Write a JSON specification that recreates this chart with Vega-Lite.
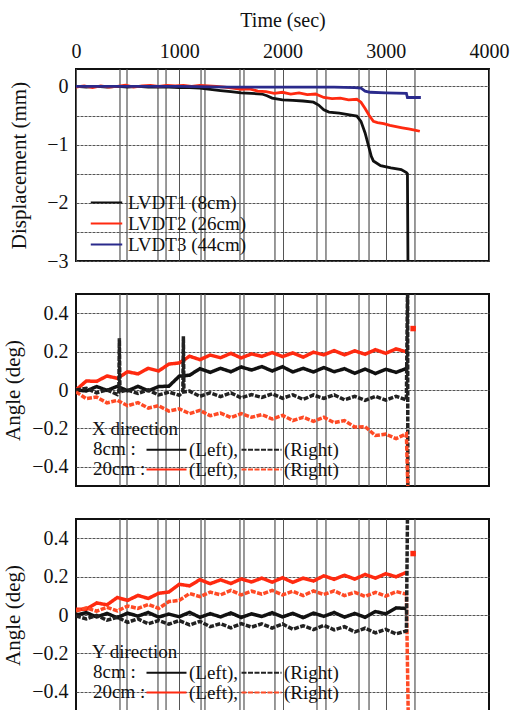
{
  "$schema": "https://vega.github.io/schema/vega-lite/v6.json",
  "padding": {"left": 1, "top": 9, "right": 15, "bottom": 0},
  "background": "white",
  "spacing": 33,
  "bounds": "flush",
  "config": {
    "font": "Liberation Serif",
    "view": {"stroke": "#111", "strokeWidth": 2},
    "axis": {"labelFont": "Liberation Serif", "titleFont": "Liberation Serif", "labelFontSize": 20, "titleFontSize": 21, "titleFontWeight": "normal", "labelColor": "#111", "titleColor": "#111", "gridColor": "#555", "gridWidth": 1, "gridOpacity": 1, "domain": false, "ticks": false, "labelOverlap": false},
    "legend": {"labelFont": "Liberation Serif", "titleFont": "Liberation Serif", "labelFontSize": 19, "titleFontSize": 19, "titleFontWeight": "normal", "labelColor": "#111", "titleColor": "#111", "padding": 0}
  },
  "datasets": {
    "events": [{"t":426},{"t":494},{"t":794},{"t":872},{"t":1211},{"t":1249},{"t":1588},{"t":1627},{"t":1927},{"t":2334},{"t":2421},{"t":2741},{"t":2838},{"t":3283}],
    "hgrid": [{"g":-0.3},{"g":-0.1},{"g":0.1},{"g":0.3}],
    "mk": [{"t":3265,"v":0.32}],
    "disp": [
      {"t":0,"v":0,"s":"LVDT1 (8cm)"},{"t":100,"v":-0.01,"s":"LVDT1 (8cm)"},{"t":200,"v":0,"s":"LVDT1 (8cm)"},{"t":300,"v":-0.01,"s":"LVDT1 (8cm)"},{"t":400,"v":0,"s":"LVDT1 (8cm)"},{"t":500,"v":-0.01,"s":"LVDT1 (8cm)"},{"t":600,"v":0,"s":"LVDT1 (8cm)"},{"t":700,"v":-0.01,"s":"LVDT1 (8cm)"},{"t":800,"v":-0.01,"s":"LVDT1 (8cm)"},{"t":900,"v":-0.01,"s":"LVDT1 (8cm)"},{"t":1000,"v":-0.02,"s":"LVDT1 (8cm)"},{"t":1100,"v":-0.02,"s":"LVDT1 (8cm)"},{"t":1200,"v":-0.03,"s":"LVDT1 (8cm)"},{"t":1300,"v":-0.05,"s":"LVDT1 (8cm)"},{"t":1400,"v":-0.07,"s":"LVDT1 (8cm)"},{"t":1500,"v":-0.09,"s":"LVDT1 (8cm)"},{"t":1600,"v":-0.11,"s":"LVDT1 (8cm)"},{"t":1700,"v":-0.12,"s":"LVDT1 (8cm)"},{"t":1800,"v":-0.13,"s":"LVDT1 (8cm)"},{"t":1850,"v":-0.16,"s":"LVDT1 (8cm)"},{"t":1900,"v":-0.2,"s":"LVDT1 (8cm)"},{"t":2000,"v":-0.23,"s":"LVDT1 (8cm)"},{"t":2100,"v":-0.24,"s":"LVDT1 (8cm)"},{"t":2200,"v":-0.25,"s":"LVDT1 (8cm)"},{"t":2300,"v":-0.27,"s":"LVDT1 (8cm)"},{"t":2350,"v":-0.32,"s":"LVDT1 (8cm)"},{"t":2400,"v":-0.4,"s":"LVDT1 (8cm)"},{"t":2450,"v":-0.44,"s":"LVDT1 (8cm)"},{"t":2550,"v":-0.46,"s":"LVDT1 (8cm)"},{"t":2650,"v":-0.49,"s":"LVDT1 (8cm)"},{"t":2720,"v":-0.51,"s":"LVDT1 (8cm)"},{"t":2760,"v":-0.6,"s":"LVDT1 (8cm)"},{"t":2800,"v":-0.8,"s":"LVDT1 (8cm)"},{"t":2830,"v":-1.0,"s":"LVDT1 (8cm)"},{"t":2860,"v":-1.2,"s":"LVDT1 (8cm)"},{"t":2880,"v":-1.28,"s":"LVDT1 (8cm)"},{"t":2950,"v":-1.36,"s":"LVDT1 (8cm)"},{"t":3050,"v":-1.4,"s":"LVDT1 (8cm)"},{"t":3150,"v":-1.43,"s":"LVDT1 (8cm)"},{"t":3200,"v":-1.48,"s":"LVDT1 (8cm)"},{"t":3210,"v":-1.5,"s":"LVDT1 (8cm)"},{"t":3215,"v":-3.0,"s":"LVDT1 (8cm)"},
      {"t":0,"v":-0.01,"s":"LVDT2 (26cm)"},{"t":80,"v":0.01,"s":"LVDT2 (26cm)"},{"t":160,"v":-0.02,"s":"LVDT2 (26cm)"},{"t":240,"v":0.01,"s":"LVDT2 (26cm)"},{"t":320,"v":-0.01,"s":"LVDT2 (26cm)"},{"t":400,"v":0,"s":"LVDT2 (26cm)"},{"t":480,"v":0.02,"s":"LVDT2 (26cm)"},{"t":560,"v":-0.01,"s":"LVDT2 (26cm)"},{"t":640,"v":0.01,"s":"LVDT2 (26cm)"},{"t":720,"v":0.02,"s":"LVDT2 (26cm)"},{"t":800,"v":0,"s":"LVDT2 (26cm)"},{"t":880,"v":0.02,"s":"LVDT2 (26cm)"},{"t":960,"v":0.01,"s":"LVDT2 (26cm)"},{"t":1040,"v":0.02,"s":"LVDT2 (26cm)"},{"t":1120,"v":0,"s":"LVDT2 (26cm)"},{"t":1200,"v":0.02,"s":"LVDT2 (26cm)"},{"t":1280,"v":0.01,"s":"LVDT2 (26cm)"},{"t":1360,"v":0,"s":"LVDT2 (26cm)"},{"t":1440,"v":-0.01,"s":"LVDT2 (26cm)"},{"t":1520,"v":-0.03,"s":"LVDT2 (26cm)"},{"t":1600,"v":-0.05,"s":"LVDT2 (26cm)"},{"t":1680,"v":-0.04,"s":"LVDT2 (26cm)"},{"t":1760,"v":-0.08,"s":"LVDT2 (26cm)"},{"t":1840,"v":-0.09,"s":"LVDT2 (26cm)"},{"t":1920,"v":-0.12,"s":"LVDT2 (26cm)"},{"t":2000,"v":-0.1,"s":"LVDT2 (26cm)"},{"t":2080,"v":-0.13,"s":"LVDT2 (26cm)"},{"t":2160,"v":-0.11,"s":"LVDT2 (26cm)"},{"t":2240,"v":-0.14,"s":"LVDT2 (26cm)"},{"t":2320,"v":-0.13,"s":"LVDT2 (26cm)"},{"t":2400,"v":-0.19,"s":"LVDT2 (26cm)"},{"t":2480,"v":-0.21,"s":"LVDT2 (26cm)"},{"t":2560,"v":-0.2,"s":"LVDT2 (26cm)"},{"t":2640,"v":-0.23,"s":"LVDT2 (26cm)"},{"t":2720,"v":-0.22,"s":"LVDT2 (26cm)"},{"t":2760,"v":-0.27,"s":"LVDT2 (26cm)"},{"t":2800,"v":-0.38,"s":"LVDT2 (26cm)"},{"t":2840,"v":-0.5,"s":"LVDT2 (26cm)"},{"t":2880,"v":-0.6,"s":"LVDT2 (26cm)"},{"t":2920,"v":-0.62,"s":"LVDT2 (26cm)"},{"t":2980,"v":-0.64,"s":"LVDT2 (26cm)"},{"t":3040,"v":-0.67,"s":"LVDT2 (26cm)"},{"t":3100,"v":-0.69,"s":"LVDT2 (26cm)"},{"t":3160,"v":-0.71,"s":"LVDT2 (26cm)"},{"t":3220,"v":-0.73,"s":"LVDT2 (26cm)"},{"t":3280,"v":-0.75,"s":"LVDT2 (26cm)"},{"t":3330,"v":-0.77,"s":"LVDT2 (26cm)"},
      {"t":0,"v":0,"s":"LVDT3 (44cm)"},{"t":500,"v":0,"s":"LVDT3 (44cm)"},{"t":1000,"v":0,"s":"LVDT3 (44cm)"},{"t":1500,"v":-0.01,"s":"LVDT3 (44cm)"},{"t":2000,"v":-0.01,"s":"LVDT3 (44cm)"},{"t":2500,"v":-0.01,"s":"LVDT3 (44cm)"},{"t":2700,"v":-0.02,"s":"LVDT3 (44cm)"},{"t":2760,"v":-0.03,"s":"LVDT3 (44cm)"},{"t":2800,"v":-0.08,"s":"LVDT3 (44cm)"},{"t":2850,"v":-0.1,"s":"LVDT3 (44cm)"},{"t":3000,"v":-0.11,"s":"LVDT3 (44cm)"},{"t":3200,"v":-0.12,"s":"LVDT3 (44cm)"},{"t":3210,"v":-0.19,"s":"LVDT3 (44cm)"},{"t":3280,"v":-0.19,"s":"LVDT3 (44cm)"},{"t":3340,"v":-0.19,"s":"LVDT3 (44cm)"}
    ],
    "ax": [
      {"t":0,"v":0.0,"s":"20cm Left","p":"20cm"},{"t":100,"v":0.047,"s":"20cm Left","p":"20cm"},{"t":200,"v":0.045,"s":"20cm Left","p":"20cm"},{"t":300,"v":0.073,"s":"20cm Left","p":"20cm"},{"t":400,"v":0.061,"s":"20cm Left","p":"20cm"},{"t":500,"v":0.095,"s":"20cm Left","p":"20cm"},{"t":600,"v":0.084,"s":"20cm Left","p":"20cm"},{"t":700,"v":0.113,"s":"20cm Left","p":"20cm"},{"t":800,"v":0.099,"s":"20cm Left","p":"20cm"},{"t":900,"v":0.135,"s":"20cm Left","p":"20cm"},{"t":1000,"v":0.141,"s":"20cm Left","p":"20cm"},{"t":1100,"v":0.176,"s":"20cm Left","p":"20cm"},{"t":1200,"v":0.158,"s":"20cm Left","p":"20cm"},{"t":1300,"v":0.182,"s":"20cm Left","p":"20cm"},{"t":1400,"v":0.168,"s":"20cm Left","p":"20cm"},{"t":1500,"v":0.191,"s":"20cm Left","p":"20cm"},{"t":1600,"v":0.167,"s":"20cm Left","p":"20cm"},{"t":1700,"v":0.188,"s":"20cm Left","p":"20cm"},{"t":1800,"v":0.175,"s":"20cm Left","p":"20cm"},{"t":1900,"v":0.195,"s":"20cm Left","p":"20cm"},{"t":2000,"v":0.174,"s":"20cm Left","p":"20cm"},{"t":2100,"v":0.193,"s":"20cm Left","p":"20cm"},{"t":2200,"v":0.171,"s":"20cm Left","p":"20cm"},{"t":2300,"v":0.197,"s":"20cm Left","p":"20cm"},{"t":2400,"v":0.183,"s":"20cm Left","p":"20cm"},{"t":2500,"v":0.205,"s":"20cm Left","p":"20cm"},{"t":2600,"v":0.183,"s":"20cm Left","p":"20cm"},{"t":2700,"v":0.204,"s":"20cm Left","p":"20cm"},{"t":2800,"v":0.186,"s":"20cm Left","p":"20cm"},{"t":2900,"v":0.21,"s":"20cm Left","p":"20cm"},{"t":3000,"v":0.191,"s":"20cm Left","p":"20cm"},{"t":3100,"v":0.214,"s":"20cm Left","p":"20cm"},{"t":3200,"v":0.199,"s":"20cm Left","p":"20cm"},
      {"t":0,"v":0.0,"s":"8cm Left","p":"8cm"},{"t":100,"v":-0.005,"s":"8cm Left","p":"8cm"},{"t":200,"v":0.018,"s":"8cm Left","p":"8cm"},{"t":300,"v":-0.002,"s":"8cm Left","p":"8cm"},{"t":400,"v":0.019,"s":"8cm Left","p":"8cm"},{"t":500,"v":-0.004,"s":"8cm Left","p":"8cm"},{"t":600,"v":0.019,"s":"8cm Left","p":"8cm"},{"t":700,"v":-0.004,"s":"8cm Left","p":"8cm"},{"t":800,"v":0.018,"s":"8cm Left","p":"8cm"},{"t":900,"v":0.02,"s":"8cm Left","p":"8cm"},{"t":1000,"v":0.072,"s":"8cm Left","p":"8cm"},{"t":1100,"v":0.077,"s":"8cm Left","p":"8cm"},{"t":1200,"v":0.111,"s":"8cm Left","p":"8cm"},{"t":1300,"v":0.092,"s":"8cm Left","p":"8cm"},{"t":1400,"v":0.113,"s":"8cm Left","p":"8cm"},{"t":1500,"v":0.095,"s":"8cm Left","p":"8cm"},{"t":1600,"v":0.12,"s":"8cm Left","p":"8cm"},{"t":1700,"v":0.104,"s":"8cm Left","p":"8cm"},{"t":1800,"v":0.122,"s":"8cm Left","p":"8cm"},{"t":1900,"v":0.099,"s":"8cm Left","p":"8cm"},{"t":2000,"v":0.121,"s":"8cm Left","p":"8cm"},{"t":2100,"v":0.094,"s":"8cm Left","p":"8cm"},{"t":2200,"v":0.113,"s":"8cm Left","p":"8cm"},{"t":2300,"v":0.094,"s":"8cm Left","p":"8cm"},{"t":2400,"v":0.117,"s":"8cm Left","p":"8cm"},{"t":2500,"v":0.095,"s":"8cm Left","p":"8cm"},{"t":2600,"v":0.111,"s":"8cm Left","p":"8cm"},{"t":2700,"v":0.087,"s":"8cm Left","p":"8cm"},{"t":2800,"v":0.109,"s":"8cm Left","p":"8cm"},{"t":2900,"v":0.086,"s":"8cm Left","p":"8cm"},{"t":3000,"v":0.108,"s":"8cm Left","p":"8cm"},{"t":3100,"v":0.092,"s":"8cm Left","p":"8cm"},{"t":3200,"v":0.112,"s":"8cm Left","p":"8cm"},
      {"t":0,"v":0,"s":"8cm Right","p":"8cm"},{"t":100,"v":0.009,"s":"8cm Right","p":"8cm"},{"t":200,"v":-0.015,"s":"8cm Right","p":"8cm"},{"t":300,"v":0.001,"s":"8cm Right","p":"8cm"},{"t":400,"v":-0.024,"s":"8cm Right","p":"8cm"},{"t":415,"v":-0.01,"s":"8cm Right","p":"8cm"},{"t":420,"v":0.27,"s":"8cm Right","p":"8cm"},{"t":425,"v":-0.01,"s":"8cm Right","p":"8cm"},{"t":500,"v":0.0,"s":"8cm Right","p":"8cm"},{"t":600,"v":-0.018,"s":"8cm Right","p":"8cm"},{"t":700,"v":0.0,"s":"8cm Right","p":"8cm"},{"t":800,"v":-0.026,"s":"8cm Right","p":"8cm"},{"t":900,"v":-0.011,"s":"8cm Right","p":"8cm"},{"t":1000,"v":-0.027,"s":"8cm Right","p":"8cm"},{"t":1035,"v":-0.01,"s":"8cm Right","p":"8cm"},{"t":1040,"v":0.28,"s":"8cm Right","p":"8cm"},{"t":1045,"v":-0.01,"s":"8cm Right","p":"8cm"},{"t":1100,"v":-0.006,"s":"8cm Right","p":"8cm"},{"t":1200,"v":-0.033,"s":"8cm Right","p":"8cm"},{"t":1300,"v":-0.015,"s":"8cm Right","p":"8cm"},{"t":1400,"v":-0.034,"s":"8cm Right","p":"8cm"},{"t":1500,"v":-0.015,"s":"8cm Right","p":"8cm"},{"t":1600,"v":-0.041,"s":"8cm Right","p":"8cm"},{"t":1700,"v":-0.024,"s":"8cm Right","p":"8cm"},{"t":1800,"v":-0.039,"s":"8cm Right","p":"8cm"},{"t":1900,"v":-0.02,"s":"8cm Right","p":"8cm"},{"t":2000,"v":-0.043,"s":"8cm Right","p":"8cm"},{"t":2100,"v":-0.025,"s":"8cm Right","p":"8cm"},{"t":2200,"v":-0.049,"s":"8cm Right","p":"8cm"},{"t":2300,"v":-0.026,"s":"8cm Right","p":"8cm"},{"t":2400,"v":-0.044,"s":"8cm Right","p":"8cm"},{"t":2500,"v":-0.025,"s":"8cm Right","p":"8cm"},{"t":2600,"v":-0.051,"s":"8cm Right","p":"8cm"},{"t":2700,"v":-0.033,"s":"8cm Right","p":"8cm"},{"t":2800,"v":-0.054,"s":"8cm Right","p":"8cm"},{"t":2900,"v":-0.033,"s":"8cm Right","p":"8cm"},{"t":3000,"v":-0.053,"s":"8cm Right","p":"8cm"},{"t":3100,"v":-0.033,"s":"8cm Right","p":"8cm"},{"t":3200,"v":-0.052,"s":"8cm Right","p":"8cm"},{"t":3212,"v":0.6,"s":"8cm Right","p":"8cm"},{"t":3214,"v":-0.6,"s":"8cm Right","p":"8cm"},
      {"t":0,"v":-0.01,"s":"20cm Right","p":"20cm"},{"t":100,"v":-0.045,"s":"20cm Right","p":"20cm"},{"t":200,"v":-0.037,"s":"20cm Right","p":"20cm"},{"t":300,"v":-0.067,"s":"20cm Right","p":"20cm"},{"t":400,"v":-0.054,"s":"20cm Right","p":"20cm"},{"t":500,"v":-0.082,"s":"20cm Right","p":"20cm"},{"t":600,"v":-0.066,"s":"20cm Right","p":"20cm"},{"t":700,"v":-0.094,"s":"20cm Right","p":"20cm"},{"t":800,"v":-0.082,"s":"20cm Right","p":"20cm"},{"t":900,"v":-0.11,"s":"20cm Right","p":"20cm"},{"t":1000,"v":-0.098,"s":"20cm Right","p":"20cm"},{"t":1100,"v":-0.123,"s":"20cm Right","p":"20cm"},{"t":1200,"v":-0.106,"s":"20cm Right","p":"20cm"},{"t":1300,"v":-0.134,"s":"20cm Right","p":"20cm"},{"t":1400,"v":-0.12,"s":"20cm Right","p":"20cm"},{"t":1500,"v":-0.143,"s":"20cm Right","p":"20cm"},{"t":1600,"v":-0.123,"s":"20cm Right","p":"20cm"},{"t":1700,"v":-0.142,"s":"20cm Right","p":"20cm"},{"t":1800,"v":-0.128,"s":"20cm Right","p":"20cm"},{"t":1900,"v":-0.151,"s":"20cm Right","p":"20cm"},{"t":2000,"v":-0.132,"s":"20cm Right","p":"20cm"},{"t":2100,"v":-0.159,"s":"20cm Right","p":"20cm"},{"t":2200,"v":-0.142,"s":"20cm Right","p":"20cm"},{"t":2300,"v":-0.163,"s":"20cm Right","p":"20cm"},{"t":2400,"v":-0.142,"s":"20cm Right","p":"20cm"},{"t":2500,"v":-0.17,"s":"20cm Right","p":"20cm"},{"t":2600,"v":-0.159,"s":"20cm Right","p":"20cm"},{"t":2700,"v":-0.193,"s":"20cm Right","p":"20cm"},{"t":2800,"v":-0.191,"s":"20cm Right","p":"20cm"},{"t":2900,"v":-0.237,"s":"20cm Right","p":"20cm"},{"t":3000,"v":-0.23,"s":"20cm Right","p":"20cm"},{"t":3100,"v":-0.253,"s":"20cm Right","p":"20cm"},{"t":3200,"v":-0.228,"s":"20cm Right","p":"20cm"},{"t":3218,"v":-0.6,"s":"20cm Right","p":"20cm"}
    ],
    "ay": [
      {"t":0,"v":0.03,"s":"20cm Left","p":"20cm"},{"t":100,"v":0.03,"s":"20cm Left","p":"20cm"},{"t":200,"v":0.063,"s":"20cm Left","p":"20cm"},{"t":300,"v":0.053,"s":"20cm Left","p":"20cm"},{"t":400,"v":0.091,"s":"20cm Left","p":"20cm"},{"t":500,"v":0.076,"s":"20cm Left","p":"20cm"},{"t":600,"v":0.102,"s":"20cm Left","p":"20cm"},{"t":700,"v":0.086,"s":"20cm Left","p":"20cm"},{"t":800,"v":0.113,"s":"20cm Left","p":"20cm"},{"t":900,"v":0.12,"s":"20cm Left","p":"20cm"},{"t":1000,"v":0.16,"s":"20cm Left","p":"20cm"},{"t":1100,"v":0.152,"s":"20cm Left","p":"20cm"},{"t":1200,"v":0.184,"s":"20cm Left","p":"20cm"},{"t":1300,"v":0.163,"s":"20cm Left","p":"20cm"},{"t":1400,"v":0.183,"s":"20cm Left","p":"20cm"},{"t":1500,"v":0.164,"s":"20cm Left","p":"20cm"},{"t":1600,"v":0.188,"s":"20cm Left","p":"20cm"},{"t":1700,"v":0.172,"s":"20cm Left","p":"20cm"},{"t":1800,"v":0.192,"s":"20cm Left","p":"20cm"},{"t":1900,"v":0.171,"s":"20cm Left","p":"20cm"},{"t":2000,"v":0.194,"s":"20cm Left","p":"20cm"},{"t":2100,"v":0.17,"s":"20cm Left","p":"20cm"},{"t":2200,"v":0.192,"s":"20cm Left","p":"20cm"},{"t":2300,"v":0.177,"s":"20cm Left","p":"20cm"},{"t":2400,"v":0.204,"s":"20cm Left","p":"20cm"},{"t":2500,"v":0.186,"s":"20cm Left","p":"20cm"},{"t":2600,"v":0.207,"s":"20cm Left","p":"20cm"},{"t":2700,"v":0.187,"s":"20cm Left","p":"20cm"},{"t":2800,"v":0.211,"s":"20cm Left","p":"20cm"},{"t":2900,"v":0.192,"s":"20cm Left","p":"20cm"},{"t":3000,"v":0.215,"s":"20cm Left","p":"20cm"},{"t":3100,"v":0.199,"s":"20cm Left","p":"20cm"},{"t":3200,"v":0.222,"s":"20cm Left","p":"20cm"},
      {"t":0,"v":0.02,"s":"20cm Right","p":"20cm"},{"t":100,"v":0.037,"s":"20cm Right","p":"20cm"},{"t":200,"v":0.02,"s":"20cm Right","p":"20cm"},{"t":300,"v":0.04,"s":"20cm Right","p":"20cm"},{"t":400,"v":0.021,"s":"20cm Right","p":"20cm"},{"t":500,"v":0.047,"s":"20cm Right","p":"20cm"},{"t":600,"v":0.034,"s":"20cm Right","p":"20cm"},{"t":700,"v":0.055,"s":"20cm Right","p":"20cm"},{"t":800,"v":0.034,"s":"20cm Right","p":"20cm"},{"t":900,"v":0.07,"s":"20cm Right","p":"20cm"},{"t":1000,"v":0.076,"s":"20cm Right","p":"20cm"},{"t":1100,"v":0.112,"s":"20cm Right","p":"20cm"},{"t":1200,"v":0.096,"s":"20cm Right","p":"20cm"},{"t":1300,"v":0.119,"s":"20cm Right","p":"20cm"},{"t":1400,"v":0.105,"s":"20cm Right","p":"20cm"},{"t":1500,"v":0.128,"s":"20cm Right","p":"20cm"},{"t":1600,"v":0.105,"s":"20cm Right","p":"20cm"},{"t":1700,"v":0.124,"s":"20cm Right","p":"20cm"},{"t":1800,"v":0.109,"s":"20cm Right","p":"20cm"},{"t":1900,"v":0.128,"s":"20cm Right","p":"20cm"},{"t":2000,"v":0.105,"s":"20cm Right","p":"20cm"},{"t":2100,"v":0.124,"s":"20cm Right","p":"20cm"},{"t":2200,"v":0.101,"s":"20cm Right","p":"20cm"},{"t":2300,"v":0.125,"s":"20cm Right","p":"20cm"},{"t":2400,"v":0.107,"s":"20cm Right","p":"20cm"},{"t":2500,"v":0.126,"s":"20cm Right","p":"20cm"},{"t":2600,"v":0.101,"s":"20cm Right","p":"20cm"},{"t":2700,"v":0.118,"s":"20cm Right","p":"20cm"},{"t":2800,"v":0.097,"s":"20cm Right","p":"20cm"},{"t":2900,"v":0.118,"s":"20cm Right","p":"20cm"},{"t":3000,"v":0.098,"s":"20cm Right","p":"20cm"},{"t":3100,"v":0.122,"s":"20cm Right","p":"20cm"},{"t":3200,"v":0.109,"s":"20cm Right","p":"20cm"},{"t":3220,"v":-0.6,"s":"20cm Right","p":"20cm"},
      {"t":0,"v":0,"s":"8cm Left","p":"8cm"},{"t":100,"v":0.012,"s":"8cm Left","p":"8cm"},{"t":200,"v":-0.01,"s":"8cm Left","p":"8cm"},{"t":300,"v":0.008,"s":"8cm Left","p":"8cm"},{"t":400,"v":-0.014,"s":"8cm Left","p":"8cm"},{"t":500,"v":0.01,"s":"8cm Left","p":"8cm"},{"t":600,"v":-0.006,"s":"8cm Left","p":"8cm"},{"t":700,"v":0.013,"s":"8cm Left","p":"8cm"},{"t":800,"v":-0.011,"s":"8cm Left","p":"8cm"},{"t":900,"v":0.005,"s":"8cm Left","p":"8cm"},{"t":1000,"v":-0.009,"s":"8cm Left","p":"8cm"},{"t":1100,"v":0.014,"s":"8cm Left","p":"8cm"},{"t":1200,"v":-0.012,"s":"8cm Left","p":"8cm"},{"t":1300,"v":0.007,"s":"8cm Left","p":"8cm"},{"t":1400,"v":-0.01,"s":"8cm Left","p":"8cm"},{"t":1500,"v":0.011,"s":"8cm Left","p":"8cm"},{"t":1600,"v":-0.013,"s":"8cm Left","p":"8cm"},{"t":1700,"v":0.006,"s":"8cm Left","p":"8cm"},{"t":1800,"v":-0.008,"s":"8cm Left","p":"8cm"},{"t":1900,"v":0.012,"s":"8cm Left","p":"8cm"},{"t":2000,"v":-0.01,"s":"8cm Left","p":"8cm"},{"t":2100,"v":0.009,"s":"8cm Left","p":"8cm"},{"t":2200,"v":-0.014,"s":"8cm Left","p":"8cm"},{"t":2300,"v":0.01,"s":"8cm Left","p":"8cm"},{"t":2400,"v":-0.007,"s":"8cm Left","p":"8cm"},{"t":2500,"v":0.013,"s":"8cm Left","p":"8cm"},{"t":2600,"v":-0.011,"s":"8cm Left","p":"8cm"},{"t":2700,"v":0.008,"s":"8cm Left","p":"8cm"},{"t":2800,"v":-0.012,"s":"8cm Left","p":"8cm"},{"t":2900,"v":0.018,"s":"8cm Left","p":"8cm"},{"t":3000,"v":0.006,"s":"8cm Left","p":"8cm"},{"t":3100,"v":0.037,"s":"8cm Left","p":"8cm"},{"t":3200,"v":0.034,"s":"8cm Left","p":"8cm"},
      {"t":0,"v":-0.005,"s":"8cm Right","p":"8cm"},{"t":100,"v":-0.02,"s":"8cm Right","p":"8cm"},{"t":200,"v":-0.002,"s":"8cm Right","p":"8cm"},{"t":300,"v":-0.027,"s":"8cm Right","p":"8cm"},{"t":400,"v":-0.012,"s":"8cm Right","p":"8cm"},{"t":500,"v":-0.038,"s":"8cm Right","p":"8cm"},{"t":600,"v":-0.02,"s":"8cm Right","p":"8cm"},{"t":700,"v":-0.046,"s":"8cm Right","p":"8cm"},{"t":800,"v":-0.029,"s":"8cm Right","p":"8cm"},{"t":900,"v":-0.048,"s":"8cm Right","p":"8cm"},{"t":1000,"v":-0.029,"s":"8cm Right","p":"8cm"},{"t":1100,"v":-0.052,"s":"8cm Right","p":"8cm"},{"t":1200,"v":-0.033,"s":"8cm Right","p":"8cm"},{"t":1300,"v":-0.061,"s":"8cm Right","p":"8cm"},{"t":1400,"v":-0.045,"s":"8cm Right","p":"8cm"},{"t":1500,"v":-0.067,"s":"8cm Right","p":"8cm"},{"t":1600,"v":-0.045,"s":"8cm Right","p":"8cm"},{"t":1700,"v":-0.063,"s":"8cm Right","p":"8cm"},{"t":1800,"v":-0.046,"s":"8cm Right","p":"8cm"},{"t":1900,"v":-0.068,"s":"8cm Right","p":"8cm"},{"t":2000,"v":-0.047,"s":"8cm Right","p":"8cm"},{"t":2100,"v":-0.074,"s":"8cm Right","p":"8cm"},{"t":2200,"v":-0.056,"s":"8cm Right","p":"8cm"},{"t":2300,"v":-0.076,"s":"8cm Right","p":"8cm"},{"t":2400,"v":-0.054,"s":"8cm Right","p":"8cm"},{"t":2500,"v":-0.077,"s":"8cm Right","p":"8cm"},{"t":2600,"v":-0.061,"s":"8cm Right","p":"8cm"},{"t":2700,"v":-0.088,"s":"8cm Right","p":"8cm"},{"t":2800,"v":-0.069,"s":"8cm Right","p":"8cm"},{"t":2900,"v":-0.093,"s":"8cm Right","p":"8cm"},{"t":3000,"v":-0.075,"s":"8cm Right","p":"8cm"},{"t":3100,"v":-0.098,"s":"8cm Right","p":"8cm"},{"t":3200,"v":-0.083,"s":"8cm Right","p":"8cm"},{"t":3212,"v":0.6,"s":"8cm Right","p":"8cm"}
    ]
  },
  "resolve": {"scale": {"y": "independent", "color": "independent", "strokeDash": "independent", "opacity": "independent"}, "legend": {"color": "independent", "strokeDash": "independent", "opacity": "independent"}},
  "vconcat": [
    {
      "width": 413, "height": 192,
      "encoding": {"x": {"field": "t", "type": "quantitative", "scale": {"domain": [0, 4000], "nice": false}, "axis": {"orient": "top", "title": "Time (sec)", "values": [0, 1000, 2000, 3000, 4000], "format": "d", "labelFlush": false, "labelPadding": 8, "titlePadding": 11, "titleFontSize": 20, "grid": true}}},
      "layer": [
        {"data": {"name": "events"}, "mark": {"type": "rule", "color": "#555", "strokeWidth": 1.2}},
        {"data": {"name": "disp"}, "mark": {"type": "line", "clip": true, "strokeWidth": 2.8},
         "encoding": {
           "y": {"field": "v", "type": "quantitative", "scale": {"domain": [-3, 0.3], "nice": false}, "axis": {"title": "Displacement (mm)", "values": [-3, -2.5, -2, -1.5, -1, -0.5, 0], "labelExpr": "datum.value % 1 == 0 ? format(datum.value, 'd') : ''", "labelPadding": 8, "titlePadding": 17, "gridDash": [3, 1]}},
           "color": {"field": "s", "type": "nominal", "scale": {"domain": ["LVDT1 (8cm)", "LVDT2 (26cm)", "LVDT3 (44cm)"], "range": ["#111111", "#ff2a10", "#2a2a8c"]},
             "legend": {"orient": "none", "legendX": 21, "legendY": 124, "title": null, "symbolType": "M-3,0H3", "symbolSize": 110, "symbolStrokeWidth": 2, "labelOffset": 12, "rowPadding": 1}}
         }}
      ]
    },
    {
      "width": 413, "height": 192,
      "encoding": {"x": {"field": "t", "type": "quantitative", "scale": {"domain": [0, 4000], "nice": false}, "axis": {"orient": "bottom", "title": null, "labels": false, "values": [1000, 2000, 3000], "grid": true}}},
      "layer": [
        {"data": {"name": "events"}, "mark": {"type": "rule", "color": "#555", "strokeWidth": 1.2}},
        {"data": {"name": "hgrid"}, "mark": {"type": "rule", "color": "#555", "strokeWidth": 1, "strokeDash": [3, 1]}, "encoding": {"y": {"field": "g", "type": "quantitative"}}},
        {"data": {"name": "ax"}, "mark": {"type": "line", "clip": true, "strokeWidth": 3.5},
         "encoding": {
           "y": {"field": "v", "type": "quantitative", "scale": {"domain": [-0.5, 0.5], "nice": false}, "axis": {"title": "Angle (deg)", "values": [-0.4, -0.2, 0, 0.2, 0.4], "labelExpr": "datum.value == 0 ? '0' : format(datum.value, '.1f')", "labelPadding": 8, "titlePadding": 8, "gridDash": [3, 1]}},
           "color": {"field": "s", "type": "nominal", "scale": {"domain": ["8cm Left", "8cm Right", "20cm Left", "20cm Right"], "range": ["#111111", "#222222", "#ff2a10", "#ff4a25"]},
             "legend": {"orient": "none", "direction": "horizontal", "legendX": 81, "legendY": 146, "title": null, "columns": 2, "symbolType": "M-4,0H4", "symbolSize": 100, "symbolStrokeWidth": 2, "labelOffset": 13, "columnPadding": -2, "rowPadding": -1, "labelExpr": "indexof(datum.label, 'Left') >= 0 ? '(Left),' : '(Right)'"}},
           "strokeDash": {"field": "s", "type": "nominal", "scale": {"domain": ["8cm Left", "8cm Right", "20cm Left", "20cm Right"], "range": [[1, 0], [5, 1.5], [1, 0], [5, 1.5]]}},
           "opacity": {"field": "p", "type": "ordinal", "scale": {"domain": ["8cm", "20cm"], "range": [1, 1]},
             "legend": {"orient": "none", "legendX": 16, "legendY": 126, "title": "X direction", "symbolOpacity": 0, "symbolSize": 0, "symbolStrokeWidth": 0, "symbolStrokeColor": "rgba(0,0,0,0)", "symbolFillColor": "rgba(0,0,0,0)", "labelOffset": -18, "rowPadding": -1, "titlePadding": 0, "labelExpr": "datum.label + ' :'"}}
         }},
        {"data": {"name": "mk"}, "mark": {"type": "square", "color": "#ff2a10", "size": 30, "opacity": 1},
         "encoding": {"y": {"field": "v", "type": "quantitative"}}}
      ]
    },
    {
      "width": 413, "height": 192,
      "encoding": {"x": {"field": "t", "type": "quantitative", "scale": {"domain": [0, 4000], "nice": false}, "axis": {"orient": "bottom", "title": null, "labels": false, "values": [1000, 2000, 3000], "grid": true}}},
      "layer": [
        {"data": {"name": "events"}, "mark": {"type": "rule", "color": "#555", "strokeWidth": 1.2}},
        {"data": {"name": "hgrid"}, "mark": {"type": "rule", "color": "#555", "strokeWidth": 1, "strokeDash": [3, 1]}, "encoding": {"y": {"field": "g", "type": "quantitative"}}},
        {"data": {"name": "ay"}, "mark": {"type": "line", "clip": true, "strokeWidth": 3.5},
         "encoding": {
           "y": {"field": "v", "type": "quantitative", "scale": {"domain": [-0.5, 0.5], "nice": false}, "axis": {"title": "Angle (deg)", "values": [-0.4, -0.2, 0, 0.2, 0.4], "labelExpr": "datum.value == 0 ? '0' : format(datum.value, '.1f')", "labelPadding": 8, "titlePadding": 8, "gridDash": [3, 1]}},
           "color": {"field": "s", "type": "nominal", "scale": {"domain": ["8cm Left", "8cm Right", "20cm Left", "20cm Right"], "range": ["#111111", "#222222", "#ff2a10", "#ff4a25"]},
             "legend": {"orient": "none", "direction": "horizontal", "legendX": 81, "legendY": 144, "title": null, "columns": 2, "symbolType": "M-4,0H4", "symbolSize": 100, "symbolStrokeWidth": 2, "labelOffset": 13, "columnPadding": -2, "rowPadding": 0, "labelExpr": "indexof(datum.label, 'Left') >= 0 ? '(Left),' : '(Right)'"}},
           "strokeDash": {"field": "s", "type": "nominal", "scale": {"domain": ["8cm Left", "8cm Right", "20cm Left", "20cm Right"], "range": [[1, 0], [5, 1.5], [1, 0], [5, 1.5]]}},
           "opacity": {"field": "p", "type": "ordinal", "scale": {"domain": ["8cm", "20cm"], "range": [1, 1]},
             "legend": {"orient": "none", "legendX": 16, "legendY": 124, "title": "Y direction", "symbolOpacity": 0, "symbolSize": 0, "symbolStrokeWidth": 0, "symbolStrokeColor": "rgba(0,0,0,0)", "symbolFillColor": "rgba(0,0,0,0)", "labelOffset": -18, "rowPadding": 0, "titlePadding": 0, "labelExpr": "datum.label + ' :'"}}
         }},
        {"data": {"name": "mk"}, "mark": {"type": "square", "color": "#ff2a10", "size": 30, "opacity": 1},
         "encoding": {"y": {"field": "v", "type": "quantitative"}}}
      ]
    }
  ]
}
